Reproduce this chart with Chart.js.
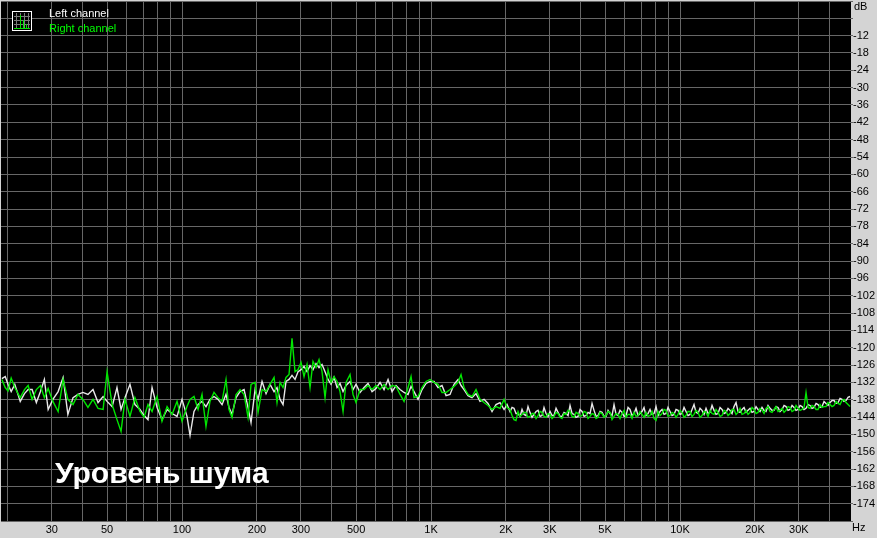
<!DOCTYPE html>
<html>
<head>
<meta charset="utf-8">
<script src="https://cdn.jsdelivr.net/npm/chart.js@4.4.0/dist/chart.umd.min.js"></script>
<style>
    html, body { margin: 0; padding: 0; background: #d4d4d4; overflow: hidden; }
    canvas { display: block; }
</style>
</head>
<body>
<canvas id="myChart" width="877" height="538"></canvas>
<script>
    // frequency bins, Hz (shared by both channels)
    var freqs = [
        18.9, 19.5, 20.0, 20.6, 21.3, 22.4, 23.3, 24.1, 25.0, 26.0, 27.0, 28.0, 29.0, 30.3, 31.8, 33.3, 34.8,
        36.5, 38.2, 40.0, 41.9, 43.9, 46.0, 48.2, 50.0, 52.4, 54.8, 56.9, 59.0, 61.8, 64.7, 67.8, 70.4, 73.0,
        75.8, 79.4, 83.1, 87.1, 91.2, 95.5, 100, 104.7, 107.7, 111.7, 116, 120.3, 124.8, 129.5, 134.4,
        139.5, 144.8, 150.2, 154.4, 158.8, 164.8, 171.0, 177.5, 184.1, 189.3, 196.5, 202.0, 209.6, 217.5,
        225.7, 234.2, 240.7, 247.6, 254.5, 261.6, 269.0, 276.5, 284.4, 292.4, 300.6, 309.0, 317.7, 326.7,
        335.8, 345.3, 355.0, 365.0, 375.3, 385.8, 396.7, 407.8, 419.3, 431.1, 443.3, 455.7, 472.9, 486.2,
        499.9, 518.7, 538.2, 558.5, 579.6, 601.3, 624.1, 647.6, 672.1, 697.4, 723.6, 750.9, 779.2, 808.5,
        831.3, 854.6, 886.8, 920.2, 954.8, 990.8,
        1028, 1067, 1107, 1149, 1192, 1237, 1284, 1320, 1357, 1408, 1461, 1516, 1573, 1633, 1694, 1758,
        1824, 1893, 1965, 2020,
        2076, 2115, 2154, 2194, 2236, 2278, 2320, 2364, 2407, 2452,
        2498, 2545, 2592, 2641, 2690, 2741, 2791, 2843, 2897, 2951,
        3006, 3063, 3119, 3178, 3236, 3297, 3358, 3421, 3485, 3551,
        3616, 3684, 3753, 3824, 3894, 3967, 4041, 4117, 4193, 4272,
        4351, 4433, 4515, 4600, 4685, 4773, 4861, 4952, 5045, 5140,
        5235, 5333, 5432, 5534, 5636, 5742, 5849, 5959, 6069, 6183,
        6298, 6416, 6535, 6658, 6781, 6908, 7037, 7169, 7301, 7438,
        7577, 7719, 7863, 8011, 8159, 8312, 8467, 8626, 8786, 8951,
        9117, 9288, 9460, 9638, 9817, 10000, 10187, 10379, 10570, 10769,
        10968, 11174, 11382, 11596, 11811, 12033, 12256, 12486, 12718, 12957,
        13197, 13445, 13694, 13951, 14211, 14478, 14746, 15023, 15302, 15590,
        15878, 16176, 16477, 16787, 17097, 17418, 17742, 18076, 18410, 18756,
        19104, 19463, 19824, 20197, 20571, 20958, 21346, 21747, 22151, 22567,
        22985, 23417, 23852, 24300, 24750, 25215, 25683, 26166, 26651, 27152,
        27655, 28175, 28697, 29236, 29779, 30339, 30901, 31482, 32065, 32668,
        33274, 33900, 34528, 35177, 35829, 36503, 37179, 37878, 38580, 39305,
        40034, 40787, 41543, 42324, 43108, 43918, 44733, 45574, 46419, 47291,
        48168
    ]

    // Left channel, dB
    var leftDb = [
        -130.7, -130.0, -132.7, -135.2, -132.7, -138.6, -135.9, -134.5, -134.5, -139.0,
        -135.2, -131.0, -141.4, -137.9, -135.2, -130.3, -143.1, -137.3, -136.2, -135.5,
        -136.2, -134.5, -139.0, -136.9, -138.6, -140.4, -133.8, -141.4, -137.3, -132.7,
        -139.7, -141.4, -143.5, -144.9, -133.8, -140.7, -144.9, -141.4, -142.8, -143.8,
        -137.9, -143.8, -150.4, -142.1, -139.7, -138.6, -140.4, -137.9, -136.9,
        -137.9, -139.7, -136.2, -140.7, -143.1, -137.3, -135.2, -134.5, -140.7, -145.9,
        -134.5, -137.9, -131.7, -135.9, -132.7, -135.2, -133.8, -137.9, -139.7, -131.7,
        -131.0, -129.6, -131.0, -128.3, -127.6, -126.5, -128.3, -126.2, -127.6, -125.5,
        -126.9, -125.8, -128.3, -131.0, -132.7, -130.3, -133.8, -132.4, -135.2, -133.1,
        -131.7, -134.5, -132.7, -135.5, -133.8, -132.4, -135.2, -134.1, -132.0, -134.5,
        -131.0, -135.2, -133.1, -134.5, -135.5, -136.2, -133.4, -135.2, -137.9, -134.5,
        -132.4, -131.7,
        -131.7, -133.8, -133.1, -136.6, -136.2, -132.7, -131.0, -133.1, -134.5, -136.6,
        -137.3, -135.9, -138.6, -137.9, -139.3, -142.1, -139.7, -139.0, -141.4, -139.7,
        -142.1, -140.7, -141.0, -142.8, -142.8, -143.8, -141.4, -143.1, -143.5, -140.4,
        -142.4, -144.1, -143.1, -142.1, -141.7, -143.8, -143.5, -140.7, -142.8, -143.8,
        -142.1, -143.5, -143.5, -141.0, -142.4, -143.8, -143.8, -142.4, -142.8, -143.5,
        -140.0, -142.8, -143.1, -144.1, -143.8, -141.4, -142.1, -143.8, -143.5, -142.4,
        -142.8, -139.3, -141.7, -143.8, -143.5, -142.1, -142.4, -143.8, -143.8, -141.7,
        -142.8, -143.5, -139.7, -143.1, -143.5, -141.7, -142.4, -143.8, -143.5, -140.7,
        -141.4, -143.5, -142.8, -141.0, -143.5, -142.8, -142.1, -140.7, -143.5, -142.8,
        -141.4, -143.1, -142.8, -140.4, -143.5, -142.1, -141.4, -143.1, -142.8, -140.7,
        -142.1, -143.5, -143.1, -141.4, -141.7, -143.1, -142.8, -140.7, -142.1, -143.5,
        -143.1, -141.4, -139.7, -142.4, -142.8, -141.0, -141.7, -143.1, -141.0, -142.8,
        -142.4, -140.0, -141.7, -143.1, -142.8, -140.7, -141.4, -142.8, -142.4, -141.0,
        -141.7, -142.8, -140.4, -139.0, -142.1, -142.4, -141.4, -140.7, -142.4, -141.7,
        -141.0, -142.4, -142.1, -140.4, -141.4, -142.1, -140.7, -141.7, -142.1, -140.0,
        -141.0, -141.7, -141.7, -140.4, -140.7, -142.1, -141.4, -140.0, -140.4, -141.7,
        -141.4, -140.0, -140.7, -141.7, -141.4, -140.0, -140.4, -141.4, -141.0, -139.7,
        -140.0, -141.0, -140.7, -139.3, -139.7, -140.7, -140.4, -138.6, -139.3, -140.0,
        -139.0, -138.3, -138.3, -139.3, -139.0, -137.6, -137.9, -138.6, -138.3, -137.2,
        -136.9
    ]

    // Right channel, dB
    var rightDb = [
        -131.0, -133.8, -135.0, -130.5, -133.8, -137.3, -134.5, -133.1, -137.9, -134.5,
        -133.1, -137.3, -134.1, -138.6, -142.1, -131.0, -137.9, -139.7, -136.2, -137.9,
        -140.7, -137.9, -141.0, -141.4, -128.3, -139.7, -144.9, -149.0, -137.9, -143.8,
        -137.3, -142.1, -144.1, -139.7, -142.1, -136.9, -145.5, -140.4, -143.1, -138.6,
        -145.5, -140.4, -137.9, -136.9, -141.4, -136.2, -147.3, -138.6, -135.5,
        -137.3, -138.6, -131.0, -141.4, -144.1, -136.2, -134.5, -136.2, -144.1, -132.7,
        -132.0, -142.4, -134.5, -135.2, -132.7, -130.3, -139.0, -132.0, -133.8, -130.3,
        -129.3, -116.8, -128.3, -127.6, -125.1, -130.0, -125.8, -133.8, -124.8, -126.9,
        -124.1, -128.3, -137.3, -127.6, -132.0, -130.0, -131.7, -135.2, -142.1, -132.0,
        -129.3, -136.2, -139.0, -134.5, -134.5, -133.1, -134.5, -133.1, -134.5, -132.7,
        -134.5, -133.1, -133.4, -136.2, -138.6, -133.8, -130.0, -137.3, -136.9, -133.8,
        -131.7, -131.0,
        -132.0, -132.7, -135.5, -135.5, -134.5, -133.4, -132.0, -129.3, -133.8, -136.2,
        -136.9, -134.5, -137.9, -139.0, -140.0, -141.4, -140.4, -141.0, -137.9, -140.7,
        -141.4, -143.5, -144.9, -145.2, -142.1, -143.8, -143.1, -142.4, -142.4, -144.1,
        -143.8, -142.8, -142.8, -144.5, -143.5, -142.1, -142.4, -143.8, -144.1, -142.8,
        -143.1, -144.5, -143.8, -142.4, -142.8, -144.1, -144.5, -142.8, -143.1, -141.7,
        -142.1, -143.8, -144.1, -142.4, -142.8, -143.8, -143.5, -142.1, -142.4, -144.5,
        -143.8, -142.8, -143.1, -144.5, -144.1, -142.4, -142.8, -144.1, -143.5, -142.1,
        -142.4, -144.9, -143.8, -142.8, -143.1, -144.5, -142.8, -141.7, -144.1, -143.1,
        -143.1, -144.5, -142.4, -143.8, -143.5, -142.1, -143.1, -144.1, -142.4, -143.8,
        -143.5, -142.1, -144.5, -145.2, -142.1, -143.5, -142.8, -141.4, -141.7, -143.8,
        -143.5, -142.4, -142.8, -144.1, -143.1, -141.7, -142.4, -144.1, -143.5, -142.1,
        -142.1, -143.8, -143.1, -141.7, -142.4, -144.1, -143.5, -142.1, -142.4, -143.8,
        -141.7, -142.8, -143.1, -141.4, -142.4, -143.8, -143.5, -141.7, -142.1, -143.5,
        -142.8, -141.4, -141.4, -143.1, -142.4, -141.0, -143.1, -142.8, -141.7, -143.1,
        -142.4, -140.7, -141.4, -142.8, -142.4, -141.0, -141.7, -142.8, -141.0, -140.4,
        -142.1, -142.4, -141.4, -140.4, -142.1, -141.7, -141.0, -142.4, -141.7, -140.4,
        -140.7, -142.1, -141.7, -140.0, -141.0, -141.7, -141.4, -140.7, -135.5, -140.7,
        -141.0, -140.0, -140.4, -141.4, -141.4, -139.7, -140.7, -140.4, -140.4, -139.0,
        -139.7, -140.4, -140.0, -138.6, -139.3, -139.7, -138.3, -137.9, -139.0, -139.7,
        -140.4
    ]

    // vertical grid lines and the ones that get a label
    var xGrid = [20, 30, 40, 50, 60, 70, 80, 90, 100, 200, 300, 400, 500, 600, 700, 800, 900,
        1000, 2000, 3000, 4000, 5000, 6000, 7000, 8000, 9000, 10000, 20000, 30000, 40000]
    var xLabels = { 30: "30", 50: "50", 100: "100", 200: "200", 300: "300", 500: "500",
        1000: "1K", 2000: "2K", 3000: "3K", 5000: "5K", 10000: "10K", 20000: "20K", 30000: "30K" }

    var yMin = -180
    var yMax = 0
    var yStep = 6

    var gridColor = "#676767"
    var axisFont = { family: "Liberation Sans", size: 11 }

    function _map(arr, fn) {
        var out = []
        for (var i = 0; i < arr.length; i++) out.push(fn(arr[i], i))
        return out
    }
    function toPoints(values) {
        return _map(values, function (v, i) { return { x: freqs[i], y: v } })
    }

    var decorPlugin = {
        id: "decor",
        beforeDraw: function (chart) {
            var ctx = chart.ctx
            var a = chart.chartArea
            ctx.save()
            ctx.fillStyle = "#d4d4d4"
            ctx.fillRect(0, 0, chart.width, chart.height)
            ctx.fillStyle = "#000000"
            ctx.fillRect(a.left, a.top, a.right - a.left, a.bottom - a.top)
            ctx.restore()
        },
        afterDraw: function (chart) {
            var ctx = chart.ctx
            var a = chart.chartArea
            ctx.save()

            // legend icon
            ctx.fillStyle = "#000000"
            ctx.fillRect(12, 11, 20, 20)
            ctx.strokeStyle = "#7a7a7a"
            ctx.lineWidth = 1
            ctx.beginPath()
            for (var g = 16; g < 31; g += 4) {
                ctx.moveTo(g + 0.5, 13); ctx.lineTo(g + 0.5, 29)
                ctx.moveTo(14, g + 0.5); ctx.lineTo(30, g + 0.5)
            }
            ctx.stroke()
            ctx.strokeStyle = "#ffffff"
            ctx.strokeRect(12.5, 11.5, 19, 19)
            ctx.strokeStyle = "#00e000"
            ctx.beginPath()
            ctx.moveTo(14, 28.5); ctx.lineTo(30, 28.5)
            ctx.moveTo(20.5, 28); ctx.lineTo(20.5, 15)
            ctx.moveTo(23.5, 28); ctx.lineTo(23.5, 20)
            ctx.moveTo(26.5, 28); ctx.lineTo(26.5, 24)
            ctx.stroke()

            // legend texts
            ctx.font = "11px 'Liberation Sans'"
            ctx.textBaseline = "middle"
            ctx.textAlign = "left"
            ctx.fillStyle = "#ffffff"
            ctx.fillText("Left channel", 49, 14)
            ctx.fillStyle = "#00ff00"
            ctx.fillText("Right channel", 49, 29)

            // axis units
            ctx.fillStyle = "#000000"
            ctx.fillText("dB", a.right + 3, 7)
            ctx.fillText("Hz", a.right + 1, 528)

            // caption
            ctx.font = "bold 30px 'Liberation Sans'"
            ctx.textBaseline = "alphabetic"
            ctx.fillStyle = "#ffffff"
            ctx.fillText("Уровень шума", 55, 483)
            ctx.restore()
        }
    }

    var ctx = document.getElementById("myChart").getContext("2d")
    var noiseChart = new Chart(ctx, {
        type: "line",
        data: {
            datasets: [{
                label: "Right channel",
                data: toPoints(rightDb),
                borderColor: "#00e600",
                borderWidth: 1.4,
                pointRadius: 0,
                tension: 0,
                order: 0
            }, {
                label: "Left channel",
                data: toPoints(leftDb),
                borderColor: "#e8e8e8",
                borderWidth: 1.4,
                pointRadius: 0,
                tension: 0,
                order: 1
            }]
        },
        options: {
            responsive: false,
            animation: false,
            devicePixelRatio: 1,
            layout: { padding: { left: 1, top: 1, right: 0, bottom: 0 } },
            plugins: {
                legend: { display: false },
                tooltip: { enabled: false }
            },
            scales: {
                x: {
                    type: "logarithmic",
                    position: "bottom",
                    min: 18.75,
                    max: 48600,
                    border: { display: false },
                    grid: { color: gridColor, drawTicks: false },
                    ticks: {
                        color: "#000000",
                        font: axisFont,
                        padding: 2,
                        autoSkip: false,
                        maxRotation: 0,
                        callback: function (value) { return xLabels[value] || "" }
                    },
                    afterBuildTicks: function (scale) {
                        scale.ticks = _map(xGrid, function (v) { return { value: v } })
                    },
                    afterFit: function (scale) {
                        scale.height = 17
                        scale.paddingLeft = 0
                        scale.paddingRight = 0
                    }
                },
                y: {
                    type: "linear",
                    position: "right",
                    min: yMin,
                    max: yMax,
                    border: { display: false },
                    grid: { color: gridColor, tickLength: 2 },
                    ticks: {
                        color: "#000000",
                        font: axisFont,
                        padding: 0,
                        callback: function (value) {
                            if (value >= -6 || value <= yMin) return ""
                            return String(value)
                        }
                    },
                    afterBuildTicks: function (scale) {
                        var t = []
                        for (var v = yMin; v <= yMax; v += yStep) t.push({ value: v })
                        scale.ticks = t
                    },
                    afterFit: function (scale) {
                        scale.width = 26
                        scale.paddingTop = 0
                        scale.paddingBottom = 0
                    }
                }
            }
        },
        plugins: [decorPlugin]
    })
</script>
</body>
</html>
